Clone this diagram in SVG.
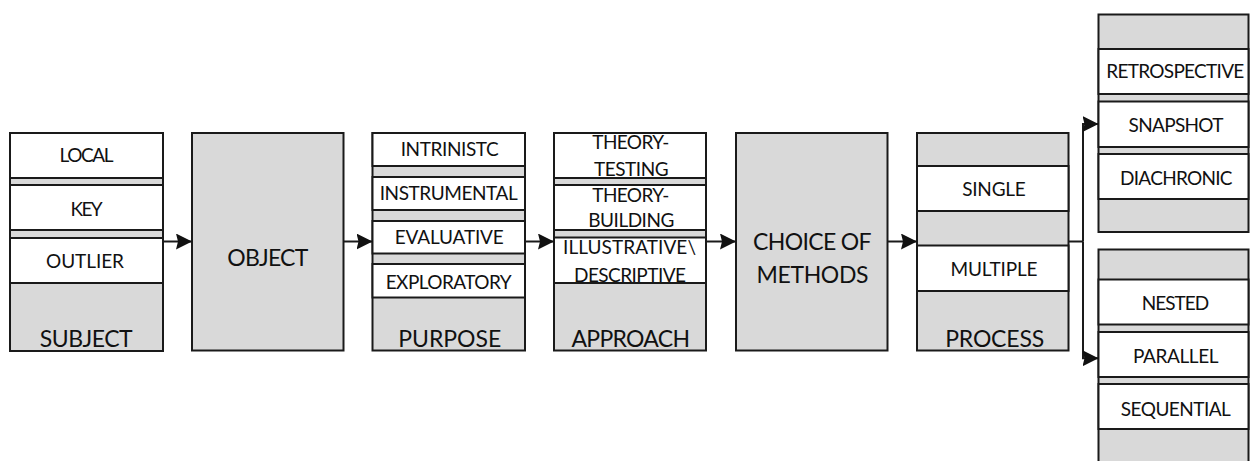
<svg xmlns="http://www.w3.org/2000/svg" width="1250" height="461" viewBox="0 0 1250 461">
  <style>
    .col { fill: #d9d9d9; stroke: #1a1a1a; stroke-width: 2; }
    .cell { fill: #ffffff; stroke: #1a1a1a; stroke-width: 2; }
    .item { font-family: Lato, "Liberation Sans", sans-serif; font-size: 19px; fill: #111; text-anchor: middle; }
    .label { font-family: Lato, "Liberation Sans", sans-serif; font-size: 23px; fill: #111; text-anchor: middle; }
    .link { fill: none; stroke: #1a1a1a; stroke-width: 2; }
  </style>
  <defs>
    <marker id="arrow" viewBox="0 0 16 16" refX="16" refY="8" markerWidth="16" markerHeight="16" markerUnits="userSpaceOnUse" orient="auto">
      <path d="M0,0 L16,8 L0,16 L2,8 Z" fill="#111"/>
    </marker>
  </defs>

  <rect width="1250" height="461" fill="#ffffff"/>

  <!-- SUBJECT -->
  <g id="subject">
    <rect class="col" x="10" y="133" width="153" height="218"/>
    <rect class="cell" x="10" y="133" width="153" height="45"/>
    <rect class="cell" x="10" y="185" width="153" height="45"/>
    <rect class="cell" x="10" y="238" width="153" height="45"/>
    <text class="item" x="86.5" y="162.3" textLength="54" lengthAdjust="spacing">LOCAL</text>
    <text class="item" x="86.5" y="216" textLength="32" lengthAdjust="spacing">KEY</text>
    <text class="item" x="85" y="268.3" textLength="78" lengthAdjust="spacing">OUTLIER</text>
    <text class="label" x="86.2" y="346.7" textLength="93" lengthAdjust="spacing">SUBJECT</text>
  </g>

  <!-- OBJECT -->
  <g id="object">
    <rect class="col" x="192" y="133" width="151.5" height="217.5"/>
    <text class="label" x="267.8" y="265.7" textLength="81" lengthAdjust="spacing">OBJECT</text>
  </g>

  <!-- PURPOSE -->
  <g id="purpose">
    <rect class="col" x="372.5" y="133" width="152.5" height="217.5"/>
    <rect class="cell" x="372.5" y="133" width="152.5" height="33"/>
    <rect class="cell" x="372.5" y="177" width="152.5" height="33"/>
    <rect class="cell" x="372.5" y="221" width="152.5" height="32.5"/>
    <rect class="cell" x="372.5" y="264" width="152.5" height="33.5"/>
    <text class="item" x="449.7" y="156" textLength="98" lengthAdjust="spacing">INTRINISTC</text>
    <text class="item" x="448.7" y="200" textLength="138" lengthAdjust="spacing">INSTRUMENTAL</text>
    <text class="item" x="449.3" y="244" textLength="109" lengthAdjust="spacing">EVALUATIVE</text>
    <text class="item" x="448.7" y="289" textLength="126" lengthAdjust="spacing">EXPLORATORY</text>
    <text class="label" x="449.7" y="346.7" textLength="103" lengthAdjust="spacing">PURPOSE</text>
  </g>

  <!-- APPROACH -->
  <g id="approach">
    <rect class="col" x="554" y="133" width="152" height="217.5"/>
    <rect class="cell" x="554" y="133" width="152" height="45"/>
    <rect class="cell" x="554" y="185" width="152" height="45"/>
    <rect class="cell" x="554" y="237.5" width="152" height="45.5"/>
    <text class="item" x="630.8" y="149" textLength="77" lengthAdjust="spacing">THEORY-</text>
    <text class="item" x="631.3" y="175.7" textLength="74.5" lengthAdjust="spacing">TESTING</text>
    <text class="item" x="630.8" y="201.7" textLength="77" lengthAdjust="spacing">THEORY-</text>
    <text class="item" x="631.3" y="227.3" textLength="86" lengthAdjust="spacing">BUILDING</text>
    <text class="item" x="629.5" y="254" textLength="133" lengthAdjust="spacing">ILLUSTRATIVE\</text>
    <text class="item" x="630" y="281.7" textLength="112" lengthAdjust="spacing">DESCRIPTIVE</text>
    <text class="label" x="630.7" y="346.7" textLength="118.5" lengthAdjust="spacing">APPROACH</text>
  </g>

  <!-- CHOICE OF METHODS -->
  <g id="choice-of-methods">
    <rect class="col" x="736" y="133" width="151.5" height="217.5"/>
    <text class="label" x="812.3" y="250" textLength="118.5" lengthAdjust="spacing">CHOICE OF</text>
    <text class="label" x="812.5" y="282.7" textLength="112" lengthAdjust="spacing">METHODS</text>
  </g>

  <!-- PROCESS -->
  <g id="process">
    <rect class="col" x="917" y="133" width="151.5" height="217.5"/>
    <rect class="cell" x="917" y="166" width="151.5" height="45"/>
    <rect class="cell" x="917" y="245.5" width="151.5" height="45.5"/>
    <text class="item" x="994" y="196" textLength="63.5" lengthAdjust="spacing">SINGLE</text>
    <text class="item" x="994" y="275.7" textLength="87" lengthAdjust="spacing">MULTIPLE</text>
    <text class="label" x="994.7" y="346.7" textLength="99" lengthAdjust="spacing">PROCESS</text>
  </g>

  <!-- Time horizon -->
  <g id="time-horizon">
    <rect class="col" x="1098.5" y="14.5" width="150" height="217.5"/>
    <rect class="cell" x="1098.5" y="49" width="150" height="45"/>
    <rect class="cell" x="1098.5" y="101.5" width="150" height="45.5"/>
    <rect class="cell" x="1098.5" y="154" width="150" height="45"/>
    <text class="item" x="1175.3" y="78.3" textLength="138" lengthAdjust="spacing">RETROSPECTIVE</text>
    <text class="item" x="1176" y="131.7" textLength="95" lengthAdjust="spacing">SNAPSHOT</text>
    <text class="item" x="1176.3" y="185" textLength="112.5" lengthAdjust="spacing">DIACHRONIC</text>
  </g>

  <!-- Multiple-case design -->
  <g id="case-design">
    <rect class="col" x="1098.5" y="249.5" width="150" height="214"/>
    <rect class="cell" x="1098.5" y="279.5" width="150" height="45"/>
    <rect class="cell" x="1098.5" y="332" width="150" height="45"/>
    <rect class="cell" x="1098.5" y="384" width="150" height="45"/>
    <text class="item" x="1175.5" y="310" textLength="67.5" lengthAdjust="spacing">NESTED</text>
    <text class="item" x="1175.8" y="363.3" textLength="85.5" lengthAdjust="spacing">PARALLEL</text>
    <text class="item" x="1175.8" y="415.7" textLength="110" lengthAdjust="spacing">SEQUENTIAL</text>
  </g>

  <!-- Connectors -->
  <g id="connectors">
    <line class="link" x1="163" y1="241.5" x2="192" y2="241.5" marker-end="url(#arrow)"/>
    <line class="link" x1="343.5" y1="241.5" x2="372.5" y2="241.5" marker-end="url(#arrow)"/>
    <line class="link" x1="525" y1="241.5" x2="554" y2="241.5" marker-end="url(#arrow)"/>
    <line class="link" x1="706" y1="241.5" x2="736" y2="241.5" marker-end="url(#arrow)"/>
    <line class="link" x1="887.5" y1="241.5" x2="917" y2="241.5" marker-end="url(#arrow)"/>
    <polyline class="link" points="1068.5,241.5 1083,241.5"/>
    <polyline class="link" points="1083,241.5 1083,124 1098.5,124" marker-end="url(#arrow)"/>
    <polyline class="link" points="1083,241.5 1083,358.3 1098.5,358.3" marker-end="url(#arrow)"/>
  </g>
</svg>
